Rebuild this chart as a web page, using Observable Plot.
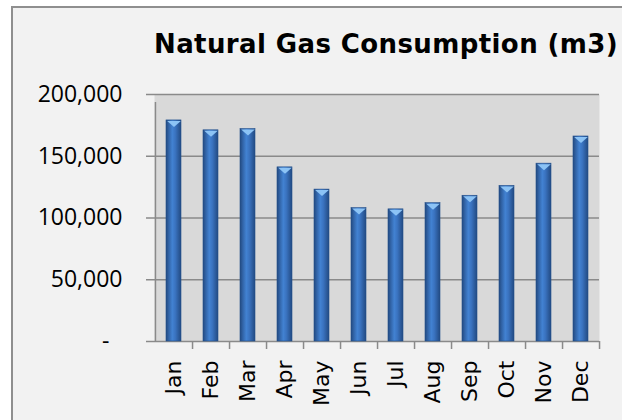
<!DOCTYPE html>
<html>
<head>
<meta charset="utf-8">
<script src="https://cdn.jsdelivr.net/npm/d3@7"></script>
<script src="https://cdn.jsdelivr.net/npm/@observablehq/plot@0.6"></script>
<style>
  html, body { margin: 0; padding: 0; background: #ffffff; width: 622px; height: 420px; overflow: hidden; }
  #frame { position: absolute; left: 11px; top: 6px; width: 700px; height: 500px; box-sizing: border-box;
           border: 2px solid #8f8f8f; background: #f2f2f2; z-index: 0; }
  #wrap { position: relative; z-index: 1; }
  #title { height: 70px; box-sizing: border-box; padding-top: 29px; padding-left: 154px; line-height: 26px;
           font: bold 26px "DejaVu Sans", sans-serif; letter-spacing: 0.4px; color: #000; white-space: nowrap; }
  #plot svg { display: block; background: transparent; overflow: visible; }
</style>
</head>
<body>
<div id="frame"></div>
<div id="wrap">
  <div id="title">Natural Gas Consumption (m3)</div>
  <div id="plot"></div>
</div>
<script>
const months = ["Jan","Feb","Mar","Apr","May","Jun","Jul","Aug","Sep","Oct","Nov","Dec"];
const consumption = [179000, 171000, 172000, 141000, 123000, 108000, 107000, 112000, 118000, 126000, 144000, 166000];
const yTicks = [0, 50000, 100000, 150000, 200000];

const data = months.map((m, i) => ({month: m, value: consumption[i]}));

const W = 622, H = 350, ML = 154, MR = 23, MT = 24, MB = 79;
const step = (W - ML - MR) / months.length;

const capSymbol = {
  draw(ctx) { ctx.moveTo(-6.8, 0); ctx.lineTo(6.8, 0); ctx.lineTo(0, 6); ctx.closePath(); }
};

const fmt = d3.format(",");
const chart = Plot.plot({
  width: W, height: H,
  marginLeft: ML, marginRight: MR, marginTop: MT, marginBottom: MB,
  style: {background: "transparent", color: "#000", overflow: "visible"},
  x: {type: "band", domain: months, paddingInner: 0.595, paddingOuter: 0.2975},
  y: {domain: [0, 200000]},
  marks: [
    Plot.frame({fill: "#d9d9d9", stroke: null}),
    Plot.ruleY(yTicks, {stroke: "#8a8a8a", strokeWidth: 1.5}),
    Plot.ruleX(months.slice(0, 1), {x: d => d, y1: 0, y2: 200000, dx: -step / 2, insetTop: 0, insetBottom: -8, stroke: "#8a8a8a", strokeWidth: 1.5}),
    Plot.ruleX(months, {x: d => d, y1: 0, y2: 0, dx: step / 2, insetBottom: -8, stroke: "#8a8a8a", strokeWidth: 1.5}),
    Plot.axisY(yTicks, {tickSize: 8, tickPadding: 24, stroke: "#8a8a8a", strokeWidth: 1.5,
      fontSize: 23, fontFamily: "Open Sans", label: null,
      tickFormat: d => d === 0 ? "-\u2007" : fmt(d)}),
    Plot.axisX({tickRotate: -90, tickSize: 0, tickPadding: 19, fontSize: 22, fontFamily: "DejaVu Sans", label: null}),
    Plot.barY(data, {x: "month", y: "value", fill: "url(#barGrad)", stroke: "#23508c", strokeWidth: 0.6}),
    Plot.dot(data, {x: "month", y: "value", symbol: capSymbol, r: 5, fill: "#8cc3f5", stroke: "none", dy: 0.5})
  ]
});

const defs = d3.select(chart).insert("defs", ":first-child");
const g = defs.append("linearGradient").attr("id", "barGrad").attr("x1", 0).attr("x2", 1).attr("y1", 0).attr("y2", 0);
[["0%", "#22497f"], ["18%", "#3163a6"], ["42%", "#4282d2"], ["62%", "#3a73c0"], ["100%", "#224a82"]]
  .forEach(([o, c]) => g.append("stop").attr("offset", o).attr("stop-color", c));

document.getElementById("plot").appendChild(chart);
</script>
</body>
</html>
